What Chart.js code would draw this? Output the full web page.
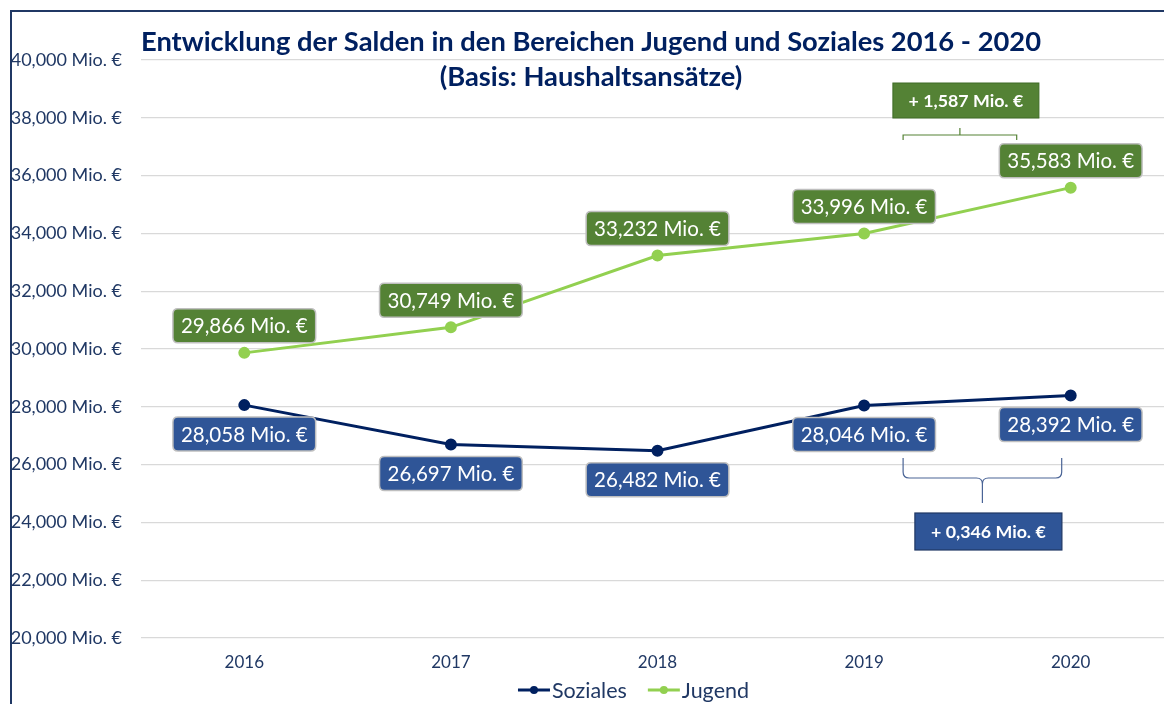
<!DOCTYPE html>
<html lang="de">
<head>
    <meta charset="UTF-8">
    <title>Entwicklung der Salden</title>
    <script src="https://cdn.jsdelivr.net/npm/chart.js"></script>
    <style>
        html, body {
            margin: 0;
            padding: 0;
            background: #fff;
            overflow: hidden;
            width: 1164px;
            height: 704px;
        }
        /* Rahmen links/oben wie im Original */
        #frame {
            position: absolute;
            left: 10px;
            top: 10px;
            width: 1200px;
            height: 720px;
            border-left: 2px solid #203864;
            border-top: 2px solid #203864;
        }
        #wrap {
            position: absolute;
            left: 0;
            top: 0;
            width: 1190px;
            height: 704px;
        }
    </style>
</head>
<body>
    <div id="frame"></div>
    <div id="wrap"><canvas id="saldenChart"></canvas></div>

    <script>
        // Daten
        const years = ['2016', '2017', '2018', '2019', '2020'];
        const soziales = [28058, 26697, 26482, 28046, 28392];
        const jugend = [29866, 30749, 33232, 33996, 35583];
        const yMin = 20000;
        const yMax = 40000;
        const yStep = 2000;
        const titleLines = ['Entwicklung der Salden in den Bereichen Jugend und Soziales 2016 - 2020', '(Basis: Haushaltsansätze)'];
        const diffJugend = '+ 1,587 Mio. €';
        const diffSoziales = '+ 0,346 Mio. €';

        const FONT = 'Lato, "Open Sans", sans-serif';
        const NAVY = '#002060';
        const TEXT = '#203864';
        const GREEN_BOX = '#548235';
        const BLUE_BOX = '#2f5597';

        function fmt(v) {
            return v.toLocaleString('en-US') + ' Mio. €';
        }

        function roundRect(ctx, x, y, w, h, r) {
            ctx.beginPath();
            ctx.moveTo(x + r, y);
            ctx.lineTo(x + w - r, y);
            ctx.quadraticCurveTo(x + w, y, x + w, y + r);
            ctx.lineTo(x + w, y + h - r);
            ctx.quadraticCurveTo(x + w, y + h, x + w - r, y + h);
            ctx.lineTo(x + r, y + h);
            ctx.quadraticCurveTo(x, y + h, x, y + h - r);
            ctx.lineTo(x, y + r);
            ctx.quadraticCurveTo(x, y, x + r, y);
            ctx.closePath();
        }

        // Wertebeschriftungen, Titel, Legende und Klammern
        const extras = {
            id: 'extras',
            afterDatasetsDraw(chart) {
                const ctx = chart.ctx;
                ctx.save();
                ctx.font = '20.5px ' + FONT;
                ctx.textAlign = 'center';
                ctx.textBaseline = 'middle';
                chart.data.datasets.forEach((ds, di) => {
                    const meta = chart.getDatasetMeta(di);
                    meta.data.forEach((pt, i) => {
                        const txt = fmt(ds.data[i]);
                        const w = ctx.measureText(txt).width + 16;
                        const h = 34;
                        const cy = di === 0 ? pt.y + 29 : pt.y - 27;
                        roundRect(ctx, pt.x - w / 2, cy - h / 2, w, h, 5);
                        ctx.fillStyle = ds.boxColor;
                        ctx.fill();
                        ctx.strokeStyle = '#bfbfbf';
                        ctx.lineWidth = 1.5;
                        ctx.stroke();
                        ctx.fillStyle = '#fff';
                        ctx.fillText(txt, pt.x, cy + 1);
                    });
                });
                ctx.restore();
            },
            afterDraw(chart) {
                const ctx = chart.ctx;
                const xs = chart.scales.x;
                const x19 = xs.getPixelForValue(3);
                const x20 = xs.getPixelForValue(4);
                ctx.save();

                // Titel
                ctx.fillStyle = NAVY;
                ctx.font = 'bold 27.3px ' + FONT;
                ctx.textAlign = 'center';
                ctx.textBaseline = 'middle';
                ctx.fillText(titleLines[0], 591, 42);
                ctx.fillText(titleLines[1], 591, 77);

                // Klammer Jugend
                ctx.strokeStyle = GREEN_BOX;
                ctx.lineWidth = 1.2;
                const gx1 = x19 + 39, gx2 = x20 - 54, gy = 135;
                const gm = (gx1 + gx2) / 2;
                ctx.beginPath();
                ctx.moveTo(gx1, gy + 5);
                ctx.lineTo(gx1, gy);
                ctx.lineTo(gx2, gy);
                ctx.lineTo(gx2, gy + 5);
                ctx.moveTo(gm, gy);
                ctx.lineTo(gm, gy - 7);
                ctx.stroke();

                ctx.font = 'bold 17.8px ' + FONT;
                let tw = 146, th = 35;
                ctx.fillStyle = GREEN_BOX;
                ctx.fillRect(gm + 6 - tw / 2, 83, tw, th);
                ctx.strokeStyle = '#3e6b26';
                ctx.lineWidth = 1;
                ctx.strokeRect(gm + 6 - tw / 2, 83, tw, th);
                ctx.fillStyle = '#fff';
                ctx.fillText(diffJugend, gm + 6, 101);

                // geschweifte Klammer Soziales
                const bx1 = x19 + 39, bx2 = x20 - 9, by0 = 458, by1 = 478, by2 = 503;
                const bm = (bx1 + bx2) / 2;
                const r = 6;
                ctx.strokeStyle = '#4a6496';
                ctx.lineWidth = 1.2;
                ctx.beginPath();
                ctx.moveTo(bx1, by0);
                ctx.lineTo(bx1, by1 - r);
                ctx.quadraticCurveTo(bx1, by1, bx1 + r, by1);
                ctx.lineTo(bm - r, by1);
                ctx.quadraticCurveTo(bm, by1, bm, by1 + r);
                ctx.lineTo(bm, by2);
                ctx.moveTo(bx2, by0);
                ctx.lineTo(bx2, by1 - r);
                ctx.quadraticCurveTo(bx2, by1, bx2 - r, by1);
                ctx.lineTo(bm + r, by1);
                ctx.quadraticCurveTo(bm, by1, bm, by1 + r);
                ctx.stroke();

                tw = 147; th = 37;
                ctx.fillStyle = BLUE_BOX;
                ctx.fillRect(bm + 6 - tw / 2, 513, tw, th);
                ctx.strokeStyle = '#203864';
                ctx.strokeRect(bm + 6 - tw / 2, 513, tw, th);
                ctx.fillStyle = '#fff';
                ctx.fillText(diffSoziales, bm + 6, 532);

                // Legende
                ctx.font = '21.5px ' + FONT;
                ctx.textAlign = 'left';
                const items = chart.data.datasets.map(ds => ({
                    label: ds.label, color: ds.borderColor, w: 35 + ctx.measureText(ds.label).width
                }));
                const gap = 20;
                const total = items.reduce((s, it) => s + it.w, 0) + gap * (items.length - 1);
                let lx = 634 - total / 2;
                const ly = 690;
                items.forEach(it => {
                    ctx.strokeStyle = it.color;
                    ctx.lineWidth = 3;
                    ctx.beginPath();
                    ctx.moveTo(lx, ly);
                    ctx.lineTo(lx + 32, ly);
                    ctx.stroke();
                    ctx.fillStyle = it.color;
                    ctx.beginPath();
                    ctx.arc(lx + 16, ly, 4, 0, Math.PI * 2);
                    ctx.fill();
                    ctx.fillStyle = TEXT;
                    ctx.fillText(it.label, lx + 34, ly + 1);
                    lx += it.w + gap;
                });
                ctx.restore();
            }
        };

        const ctx = document.getElementById('saldenChart').getContext('2d');
        new Chart(ctx, {
            type: 'line',
            data: {
                labels: years,
                datasets: [{
                    label: 'Soziales',
                    data: soziales,
                    borderColor: NAVY,
                    backgroundColor: NAVY,
                    boxColor: BLUE_BOX,
                    borderWidth: 3,
                    pointRadius: 4.5,
                    pointHoverRadius: 4.5,
                    tension: 0
                }, {
                    label: 'Jugend',
                    data: jugend,
                    borderColor: '#92d050',
                    backgroundColor: '#92d050',
                    boxColor: GREEN_BOX,
                    borderWidth: 3,
                    pointRadius: 4.5,
                    pointHoverRadius: 4.5,
                    tension: 0
                }]
            },
            options: {
                responsive: true,
                maintainAspectRatio: false,
                animation: false,
                layout: {
                    padding: { top: 60, right: 16, left: 0, bottom: 0 }
                },
                scales: {
                    x: {
                        offset: true,
                        grid: { display: false, drawTicks: false },
                        border: { display: false },
                        ticks: {
                            color: TEXT,
                            padding: 14,
                            font: { family: FONT, size: 17 }
                        },
                        afterFit(scale) { scale.height = 66; }
                    },
                    y: {
                        min: yMin,
                        max: yMax,
                        grid: { color: '#d9d9d9', lineWidth: 1.2, drawTicks: false },
                        border: { display: false },
                        ticks: {
                            stepSize: yStep,
                            color: TEXT,
                            padding: 19,
                            font: { family: FONT, size: 18 },
                            callback: v => fmt(v)
                        },
                        afterFit(scale) { scale.width = 141; }
                    }
                },
                plugins: {
                    legend: { display: false },
                    title: { display: false },
                    tooltip: { enabled: false }
                }
            },
            plugins: [extras]
        });
    </script>
</body>
</html>
